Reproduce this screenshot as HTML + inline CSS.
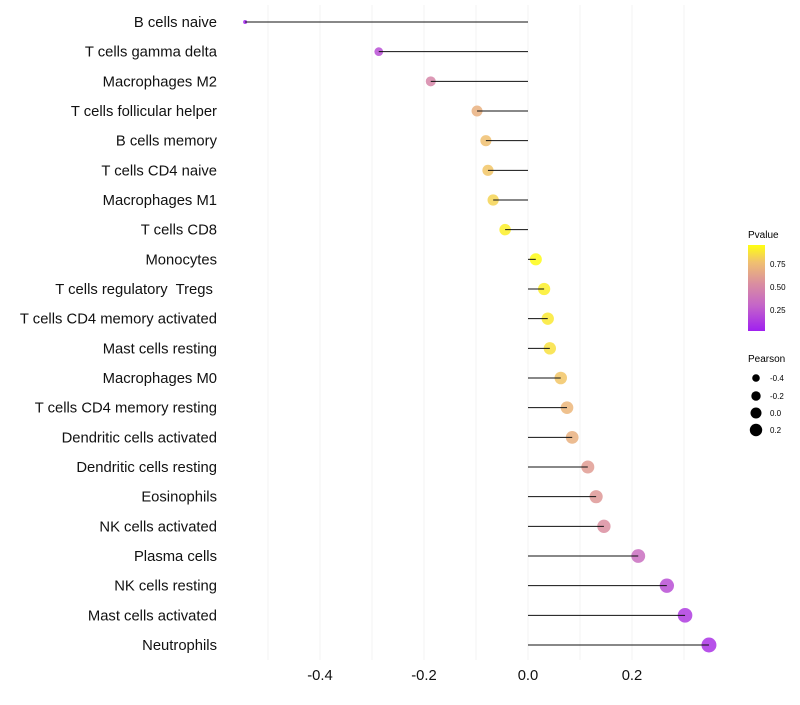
<!DOCTYPE html>
<html><head><meta charset="utf-8"><style>
body{margin:0;background:#fff;font-family:"Liberation Sans",Arial,sans-serif}
svg text{font-family:"Liberation Sans",Arial,sans-serif;white-space:pre}
</style></head><body>
<svg id="chart" width="800" height="700" xmlns="http://www.w3.org/2000/svg">
<defs><linearGradient id="pg" x1="0" y1="1" x2="0" y2="0">
<stop offset="0" stop-color="#a020f0"/><stop offset="0.3" stop-color="#c566c8"/><stop offset="0.55" stop-color="#da8ea0"/><stop offset="0.8" stop-color="#f0c070"/><stop offset="1" stop-color="#ffff10"/>
</linearGradient></defs>
<g id="grid"></g>
<g id="marks"></g>
<g id="ylabels"></g>
<g id="xlabels"></g>
<g>
<text x="748" y="238" font-size="10">Pvalue</text>
<rect x="748" y="245" width="17" height="86" fill="url(#pg)"/>
<text x="770" y="267" font-size="8">0.75</text>
<text x="770" y="290" font-size="8">0.50</text>
<text x="770" y="313" font-size="8">0.25</text>
</g>
<g>
<text x="748" y="362" font-size="10">Pearson</text>
<circle cx="756" cy="378" r="3.8" fill="#000"/><text x="770" y="381" font-size="8">-0.4</text>
<circle cx="756" cy="396" r="4.7" fill="#000"/><text x="770" y="399" font-size="8">-0.2</text>
<circle cx="756" cy="413" r="5.5" fill="#000"/><text x="770" y="416" font-size="8">0.0</text>
<circle cx="756" cy="430" r="6.2" fill="#000"/><text x="770" y="433" font-size="8">0.2</text>
</g>
</svg>
<script>
const categories=["B cells naive","T cells gamma delta","Macrophages M2","T cells follicular helper","B cells memory","T cells CD4 naive","Macrophages M1","T cells CD8","Monocytes","T cells regulatory  Tregs ","T cells CD4 memory activated","Mast cells resting","Macrophages M0","T cells CD4 memory resting","Dendritic cells activated","Dendritic cells resting","Eosinophils","NK cells activated","Plasma cells","NK cells resting","Mast cells activated","Neutrophils"];
const pearson=[-0.544,-0.287,-0.187,-0.098,-0.081,-0.077,-0.067,-0.044,0.015,0.031,0.038,0.042,0.063,0.075,0.085,0.115,0.131,0.146,0.212,0.267,0.302,0.348];
const pvalues=[0.01,0.2,0.5,0.72,0.8,0.82,0.86,0.95,0.99,0.95,0.93,0.9,0.82,0.75,0.72,0.62,0.6,0.55,0.35,0.2,0.12,0.08];
const xTicks=[-0.4,-0.2,0.0,0.2];
const xTickLabels=["-0.4","-0.2","0.0","0.2"];
const gridVals=[-0.5,-0.4,-0.3,-0.2,-0.1,0,0.1,0.2,0.3];
const NS="http://www.w3.org/2000/svg";
const xs=v=>528+v*520;
const ys=i=>22+i*(623/21);
const pmin=Math.min(...pearson),pmax=Math.max(...pearson);
const rs=v=>{const t=(v-pmin)/(pmax-pmin);return Math.sqrt(4+t*(56-4));};
const stops=[[0,[160,32,240]],[0.3,[197,102,200]],[0.55,[218,142,160]],[0.8,[240,192,112]],[1,[255,255,16]]];
function col(p){for(let k=1;k<stops.length;k++){if(p<=stops[k][0]){const a=stops[k-1],b=stops[k],t=(p-a[0])/(b[0]-a[0]);return"rgb("+a[1].map((c,j)=>Math.round(c+(b[1][j]-c)*t)).join(",")+")";}}return"rgb(255,255,16)";}
function mk(t,a,p){const e=document.createElementNS(NS,t);for(const k in a)e.setAttribute(k,a[k]);p.appendChild(e);return e;}
const grid=document.getElementById('grid'),marks=document.getElementById('marks'),yl=document.getElementById('ylabels'),xl=document.getElementById('xlabels');
gridVals.forEach(v=>{const l=mk('line',{x1:xs(v),x2:xs(v),y1:5,y2:660,stroke:"#f3f3f3","stroke-width":1},grid);

});
categories.forEach((c,i)=>{
const y=ys(i);
const ci=mk('circle',{cx:xs(pearson[i]),cy:y,r:rs(pearson[i]),fill:col(pvalues[i]),"fill-opacity":0.85},marks);


const ln=mk('line',{x1:xs(pearson[i]),x2:xs(0),y1:y,y2:y,stroke:"#111","stroke-width":1},marks);


const t=mk('text',{x:217,y:y+5,"text-anchor":"end","font-size":14.8,fill:"#111"},yl);
t.textContent=c;


});
xTicks.forEach((v,i)=>{const t=mk('text',{x:xs(v),y:680,"text-anchor":"middle","font-size":14.8,fill:"#111"},xl);
t.textContent=xTickLabels[i];

});
</script>
</body></html>
